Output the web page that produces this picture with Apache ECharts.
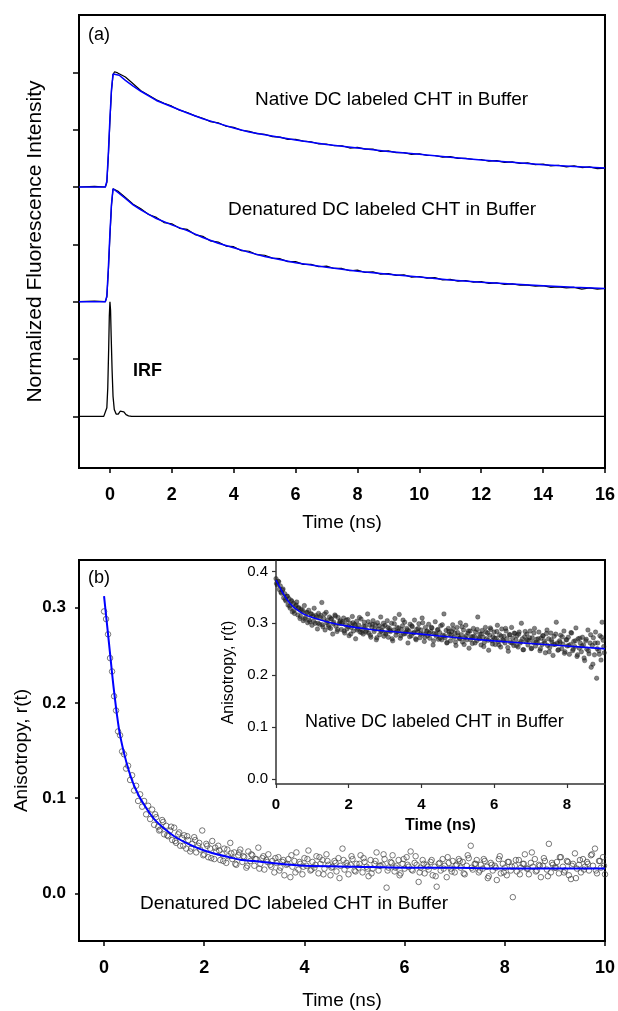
<!DOCTYPE html>
<html>
<head>
<meta charset="utf-8">
<script src="https://cdn.jsdelivr.net/npm/echarts@6/dist/echarts.min.js"></script>
<style>
html,body{margin:0;padding:0;background:#fff;}
#chart{width:618px;height:1011px;}
</style>
</head>
<body>
<div id="chart"></div>
<script>
// ---------- Panel (a): fluorescence decays (offset, normalized units) ----------
const decayT = [-1, -0.5, -0.15, -0.1, -0.05, 0, 0.05, 0.1, 0.15,
  0.25, 0.5, 0.75, 1, 1.25, 1.5, 1.75, 2, 2.25, 2.5, 2.75, 3, 3.25, 3.5, 3.75, 4,
  4.25, 4.5, 4.75, 5, 5.25, 5.5, 5.75, 6, 6.25, 6.5, 6.75, 7, 7.25, 7.5, 7.75, 8,
  8.25, 8.5, 8.75, 9, 9.25, 9.5, 9.75, 10, 10.25, 10.5, 10.75, 11, 11.25, 11.5, 11.75, 12,
  12.25, 12.5, 12.75, 13, 13.25, 13.5, 13.75, 14, 14.25, 14.5, 14.75, 15, 15.25, 15.5, 15.75, 16];
const nativeDecay = [4.00, 4.01, 4.00, 4.08, 4.55, 5.15, 5.68, 5.96, 6.01,
  5.99, 5.92, 5.80, 5.68, 5.60, 5.52, 5.46, 5.41, 5.34, 5.30, 5.24, 5.20, 5.14, 5.12, 5.06, 5.04,
  4.99, 4.97, 4.93, 4.92, 4.88, 4.87, 4.83, 4.83, 4.80, 4.79, 4.75, 4.75, 4.72, 4.72, 4.68, 4.69,
  4.66, 4.66, 4.62, 4.63, 4.60, 4.60, 4.57, 4.58, 4.55, 4.55, 4.52, 4.53, 4.50, 4.50, 4.48, 4.48,
  4.45, 4.46, 4.43, 4.44, 4.41, 4.42, 4.39, 4.40, 4.37, 4.38, 4.35, 4.37, 4.34, 4.35, 4.32, 4.33];
const denatDecay = [2.00, 2.01, 2.00, 2.08, 2.55, 3.15, 3.68, 3.97, 3.99,
  3.93, 3.82, 3.70, 3.62, 3.52, 3.47, 3.38, 3.36, 3.28, 3.26, 3.17, 3.14, 3.06, 3.04, 2.97, 2.96,
  2.89, 2.88, 2.82, 2.81, 2.76, 2.75, 2.70, 2.70, 2.65, 2.65, 2.61, 2.62, 2.58, 2.58, 2.54, 2.55,
  2.51, 2.52, 2.48, 2.49, 2.46, 2.47, 2.43, 2.44, 2.41, 2.42, 2.38, 2.39, 2.36, 2.37, 2.34, 2.35,
  2.32, 2.33, 2.30, 2.31, 2.29, 2.29, 2.27, 2.28, 2.25, 2.26, 2.24, 2.25, 2.22, 2.24, 2.22, 2.23];
const fitT = [-1, -0.15, -0.1, -0.05, 0, 0.05, 0.1, 0.15, 0.3, 0.5, 0.75, 1, 1.5, 2, 2.5, 3, 3.5,
  4, 4.5, 5, 6, 7, 8, 9, 10, 11, 12, 13, 14, 15, 16];
const nativeFit = [4.0, 4.0, 4.1, 4.6, 5.2, 5.7, 5.97, 6.0, 5.95, 5.86, 5.76, 5.67, 5.51, 5.40, 5.29, 5.19, 5.11,
  5.03, 4.96, 4.91, 4.82, 4.74, 4.68, 4.62, 4.57, 4.52, 4.47, 4.43, 4.39, 4.36, 4.33];
const denatFit = [2.0, 2.0, 2.1, 2.6, 3.2, 3.7, 3.97, 3.98, 3.89, 3.80, 3.69, 3.60, 3.45, 3.34, 3.24, 3.12, 3.02,
  2.94, 2.86, 2.79, 2.68, 2.60, 2.53, 2.48, 2.43, 2.38, 2.34, 2.31, 2.28, 2.25, 2.23];
const irfT = [-1, -0.2, -0.15, -0.1, -0.07, -0.04, -0.02, 0, 0.02, 0.04, 0.07, 0.1, 0.14, 0.2, 0.27, 0.33, 0.39, 0.45, 0.52, 0.6, 0.7, 16];
const irfV = [0, 0, 0.02, 0.15, 0.5, 1.2, 1.75, 2.0, 1.85, 1.4, 0.8, 0.35, 0.12, 0.04, 0.04, 0.09, 0.11, 0.08, 0.03, 0.01, 0, 0];
const topXTicks = [0, 2, 4, 6, 8, 10, 12, 14, 16];
const topYTicks = [0, 1, 2, 3, 4, 5, 6];

// ---------- Panel (b): anisotropy, denatured (main) ----------
const denatAnisoStart = 0, denatAnisoStep = 0.04;
const denatAniso = [
  0.296,0.288,0.272,0.247,0.233,0.207,0.192,0.170,0.166,0.149,
  0.146,0.131,0.134,0.119,0.124,0.108,0.113,0.097,0.104,0.091,
  0.097,0.083,0.092,0.078,0.088,0.072,0.080,0.070,0.067,0.077,
  0.062,0.071,0.060,0.066,0.056,0.069,0.053,0.062,0.050,0.058,
  0.061,0.047,0.056,0.044,0.052,0.059,0.043,0.050,0.046,0.066,
  0.041,0.052,0.038,0.047,0.055,0.036,0.044,0.050,0.035,0.041,
  0.047,0.032,0.039,0.053,0.036,0.043,0.030,0.040,0.046,0.033,
  0.038,0.027,0.044,0.034,0.040,0.029,0.036,0.048,0.031,0.037,
  0.025,0.035,0.041,0.030,0.034,0.022,0.032,0.038,0.027,0.033,
  0.019,0.030,0.036,0.017,0.028,0.034,0.043,0.025,0.031,0.020,
  0.037,0.029,0.045,0.024,0.033,0.027,0.039,0.021,0.031,0.035,
  0.026,0.041,0.030,0.019,0.028,0.034,0.023,0.037,0.029,0.047,
  0.025,0.032,0.020,0.030,0.036,0.024,0.031,0.027,0.040,0.022,
  0.033,0.028,0.018,0.035,0.026,0.031,0.043,0.024,0.029,0.030,
  0.036,0.006,0.027,0.033,0.040,0.023,0.029,0.035,0.021,0.031,
  0.026,0.038,0.028,0.044,0.024,0.032,0.030,0.012,0.027,0.035,
  0.021,0.030,0.025,0.033,0.019,0.028,0.007,0.031,0.024,0.036,
  0.029,0.017,0.032,0.026,0.034,0.022,0.030,0.036,0.027,0.033,
  0.020,0.029,0.037,0.050,0.025,0.031,0.035,0.022,0.030,0.026,
  0.034,0.028,0.018,0.032,0.024,0.029,0.014,0.036,0.021,0.031,
  0.027,0.019,0.033,0.024,-0.004,0.029,0.023,0.035,0.027,0.031,
  0.041,0.026,0.020,0.032,0.028,0.036,0.024,0.030,0.017,0.029,
  0.034,0.025,0.052,0.022,0.030,0.027,0.033,0.021,0.038,0.028,
  0.024,0.034,0.019,0.015,0.031,0.042,0.026,0.030,0.022,0.036,
  0.028,0.033,0.024,0.040,0.029,0.047,0.021,0.034,0.027,0.038,
  0.020];
// interleaved channels of the same decay (t = 1.02, 1.10, ...)
const denatAniso2Start = 1.02, denatAniso2Step = 0.08;
const denatAniso2 = [
  .083,.066,.075,.061,.070,.055,.064,.050,.060,.047,
  .056,.053,.040,.050,.037,.048,.045,.034,.046,.042,
  .031,.043,.039,.029,.041,.036,.026,.039,.033,.028,
  .037,.024,.035,.031,.040,.022,.033,.028,.036,.025,
  .030,.038,.020,.034,.027,.032,.016,.035,.029,.039,
  .023,.031,.037,.026,.021,.034,.029,.041,.024,.032,
  .027,.019,.036,.030,.025,.039,.022,.031,.028,.035,
  .018,.032,.026,.038,.023,.029,.034,.021,.040,.027,
  .031,.024,.036,.016,.030,.027,.039,.022,.033,.028,
  .035,.020,.031,.026,.043,.023,.029,.037,.018,.032,
  .027,.038,.022,.033,.029,.016,.035,.025,.031,.041,
  .024,.034,.029];
const denatAnisoFitT = [0, 0.1, 0.2, 0.3, 0.4, 0.5, 0.6, 0.7, 0.8, 0.9, 1.0, 1.2, 1.4, 1.6, 1.8, 2.0, 2.25, 2.5, 2.75, 3.0, 3.5, 4, 5, 6, 7, 8, 9, 10];
const denatAnisoFit = [0.312, 0.262, 0.212, 0.172, 0.147, 0.128, 0.113, 0.102, 0.093, 0.085, 0.078, 0.068, 0.060, 0.054, 0.049, 0.045, 0.041, 0.038, 0.035, 0.034, 0.031, 0.029, 0.028, 0.027, 0.027, 0.026, 0.026, 0.026];
const mainXTicks = [0, 2, 4, 6, 8, 10];
const mainYTicks = [0, 0.1, 0.2, 0.3];

// ---------- Inset: anisotropy, native ----------
const nativeAnisoStart = 0, nativeAnisoStep = 0.03;
const nativeAniso = [
  .386,.374,.381,.365,.372,.358,.364,.349,.357,.343,
  .352,.335,.347,.329,.344,.322,.338,.319,.333,.341,
  .316,.330,.309,.327,.322,.305,.334,.311,.320,.301,
  .325,.303,.318,.296,.314,.329,.300,.312,.289,.319,
  .298,.315,.340,.293,.309,.287,.321,.305,.296,.312,
  .290,.308,.279,.302,.316,.294,.284,.311,.299,.305,
  .288,.303,.310,.281,.297,.289,.307,.276,.300,.292,
  .313,.285,.298,.270,.304,.290,.296,.283,.308,.287,
  .279,.302,.294,.286,.318,.281,.297,.273,.292,.305,
  .284,.297,.268,.301,.289,.278,.312,.286,.293,.275,
  .296,.281,.305,.273,.290,.284,.300,.266,.287,.309,
  .277,.292,.284,.317,.271,.288,.295,.279,.302,.283,
  .290,.262,.285,.298,.276,.293,.281,.306,.270,.288,
  .283,.299,.272,.287,.310,.279,.265,.292,.284,.276,
  .298,.271,.284,.291,.258,.280,.303,.275,.287,.269,
  .282,.295,.268,.277,.318,.272,.286,.263,.290,.279,
  .266,.284,.297,.273,.281,.257,.292,.276,.270,.301,
  .278,.264,.287,.272,.296,.268,.281,.252,.285,.274,
  .261,.290,.275,.283,.266,.312,.272,.279,.258,.286,
  .273,.263,.292,.270,.281,.248,.277,.288,.266,.274,
  .283,.259,.271,.296,.265,.278,.254,.289,.268,.275,
  .262,.285,.270,.246,.278,.263,.292,.271,.257,.280,
  .268,.276,.254,.283,.262,.300,.270,.249,.274,.265,
  .279,.258,.267,.285,.251,.272,.263,.290,.256,.269,
  .262,.283,.247,.271,.259,.276,.266,.243,.280,.257,
  .270,.253,.281,.264,.238,.275,.259,.302,.262,.249,
  .266,.277,.251,.260,.285,.245,.268,.256,.273,.240,
  .259,.281,.247,.265,.255,.291,.236,.270,.252,.262,
  .245,.273,.258,.228,.266,.250,.287,.241,.262,.215,
  .257,.272,.239,.283,.194,.262,.247,.276,.229,.302,
  .267,.243];
// interleaved channels of the same decay (t = 0.015, 0.075, ...)
const nativeAniso2Start = 0.015, nativeAniso2Step = 0.06;
const nativeAniso2 = [
  .377,.380,.360,.366,.346,.352,.333,.342,.324,.335,
  .329,.313,.325,.308,.321,.306,.318,.304,.315,.300,
  .311,.297,.318,.301,.292,.309,.299,.314,.288,.303,
  .300,.285,.306,.293,.279,.301,.296,.287,.311,.282,
  .294,.283,.303,.277,.298,.289,.272,.295,.284,.300,
  .279,.292,.286,.270,.299,.283,.291,.276,.306,.280,
  .287,.274,.295,.282,.268,.290,.279,.301,.273,.285,
  .281,.292,.266,.279,.288,.271,.297,.276,.262,.284,
  .277,.289,.264,.282,.271,.293,.259,.276,.285,.268,
  .274,.262,.288,.270,.279,.255,.283,.267,.291,.260,
  .271,.284,.258,.275,.266,.290,.253,.278,.262,.281,
  .257,.279,.265,.249,.284,.268,.272,.252,.281,.263,
  .270,.251,.276,.262,.287,.245,.268,.259,.279,.248,
  .263,.274,.242,.268,.257,.282,.250,.266,.239,.271,
  .256,.233,.269,.247,.278,.221,.262,.251,.240,.273,
  .255];
const nativeAnisoFitT = [0, 0.1, 0.2, 0.3, 0.4, 0.5, 0.75, 1.0, 1.5, 2.0, 2.5, 3.0, 4, 5, 6, 7, 8, 9, 9.05];
const nativeAnisoFit = [0.383, 0.370, 0.357, 0.346, 0.337, 0.330, 0.318, 0.311, 0.301, 0.294, 0.289, 0.285, 0.279, 0.272, 0.266, 0.261, 0.256, 0.251, 0.2505];
const insetXTicks = [0, 2, 4, 6, 8];
const insetYTicks = [0, 0.1, 0.2, 0.3, 0.4];

// ---------- helpers ----------
const zip = (xs, ys) => xs.map((x, i) => [x, ys[i]]);
const sampled = (t0, dt, ys) => ys.map((y, i) => [+(t0 + i * dt).toFixed(4), y]);

const FONT = '"Liberation Sans", Arial, sans-serif';
const BLUE = '#0000ff';

function axisBase(extra) {
  return Object.assign({
    type: 'value',
    splitLine: { show: false },
    axisLine: { show: true, onZero: false, lineStyle: { color: '#000', width: 2 } },
  }, extra);
}

const openCircle = { color: 'rgba(255,255,255,0)', borderColor: '#444', borderWidth: 0.9 };
const darkDot = { color: 'rgba(35,35,35,0.72)', borderColor: 'rgba(20,20,20,0.8)', borderWidth: 0.5 };

const chart = echarts.init(document.getElementById('chart'), null, { renderer: 'canvas' });
chart.setOption({
  animation: false,
  backgroundColor: '#fff',
  textStyle: { fontFamily: FONT, color: '#000' },
  grid: [
    { left: 79, top: 15, width: 527, height: 453, show: true, borderColor: '#000', borderWidth: 2, backgroundColor: 'transparent' },
    { left: 79, top: 560, width: 527, height: 381, show: true, borderColor: '#000', borderWidth: 2, backgroundColor: 'transparent' },
    { left: 276, top: 561, width: 329, height: 223, show: false }
  ],
  xAxis: [
    axisBase({
      gridIndex: 0, min: -1, max: 16,
      axisTick: { show: true, customValues: topXTicks, length: 5, lineStyle: { color: '#000', width: 1.5 } },
      axisLabel: { customValues: topXTicks, fontSize: 18, fontWeight: 'bold', color: '#000', margin: 18 },
      name: 'Time (ns)', nameLocation: 'middle', nameGap: 45,
      nameTextStyle: { fontSize: 19, color: '#000' }
    }),
    axisBase({
      gridIndex: 1, min: -0.5, max: 10,
      axisTick: { show: true, customValues: mainXTicks, length: 5, lineStyle: { color: '#000', width: 1.5 } },
      axisLabel: { customValues: mainXTicks, fontSize: 18, fontWeight: 'bold', color: '#000', margin: 18 },
      name: 'Time (ns)', nameLocation: 'middle', nameGap: 50,
      nameTextStyle: { fontSize: 19, color: '#000' }
    }),
    axisBase({
      gridIndex: 2, min: 0, max: 9.05,
      axisLine: { show: true, onZero: false, lineStyle: { color: '#333', width: 1.5 } },
      axisTick: { show: true, customValues: insetXTicks, length: 4, lineStyle: { color: '#333', width: 1.2 } },
      axisLabel: { customValues: insetXTicks, fontSize: 15, fontWeight: 'bold', color: '#000', margin: 13 },
      name: 'Time (ns)', nameLocation: 'middle', nameGap: 34,
      nameTextStyle: { fontSize: 16, fontWeight: 'bold', color: '#000' }
    })
  ],
  yAxis: [
    axisBase({
      gridIndex: 0, min: -0.9, max: 7,
      axisTick: { show: true, customValues: topYTicks, length: 6, lineStyle: { color: '#000', width: 1.5 } },
      axisLabel: { show: false },
      name: 'Normalized Fluorescence Intensity', nameLocation: 'middle', nameGap: 33,
      nameTextStyle: { fontSize: 21, color: '#000' }
    }),
    axisBase({
      gridIndex: 1, min: -0.05, max: 0.35,
      axisTick: { show: true, customValues: mainYTicks, length: 4, lineStyle: { color: '#000', width: 1.5 } },
      axisLabel: { customValues: mainYTicks, fontSize: 17, fontWeight: 'bold', color: '#000', margin: 13,
        formatter: v => (+v).toFixed(1) },
      name: 'Anisotropy, r(t)', nameLocation: 'middle', nameGap: 48,
      nameTextStyle: { fontSize: 19, color: '#000' }
    }),
    axisBase({
      gridIndex: 2, min: -0.01, max: 0.42,
      axisLine: { show: true, onZero: false, lineStyle: { color: '#333', width: 1.5 } },
      axisTick: { show: true, customValues: insetYTicks, length: 4, lineStyle: { color: '#333', width: 1.2 } },
      axisLabel: { customValues: insetYTicks, fontSize: 15, color: '#000', margin: 8,
        formatter: v => (+v).toFixed(1) },
      name: 'Anisotropy, r(t)', nameLocation: 'middle', nameGap: 34,
      nameTextStyle: { fontSize: 16, color: '#000' }
    })
  ],
  series: [
    { type: 'line', xAxisIndex: 0, yAxisIndex: 0, data: zip(decayT, nativeDecay), showSymbol: false,
      lineStyle: { color: '#000', width: 1.2 }, z: 2 },
    { type: 'line', xAxisIndex: 0, yAxisIndex: 0, data: zip(fitT, nativeFit), showSymbol: false,
      lineStyle: { color: BLUE, width: 1.5 }, z: 3 },
    { type: 'line', xAxisIndex: 0, yAxisIndex: 0, data: zip(decayT, denatDecay), showSymbol: false,
      lineStyle: { color: '#000', width: 1.2 }, z: 2 },
    { type: 'line', xAxisIndex: 0, yAxisIndex: 0, data: zip(fitT, denatFit), showSymbol: false,
      lineStyle: { color: BLUE, width: 1.5 }, z: 3 },
    { type: 'line', xAxisIndex: 0, yAxisIndex: 0, data: zip(irfT, irfV), showSymbol: false,
      lineStyle: { color: '#000', width: 1.3 }, z: 2 },
    { type: 'scatter', xAxisIndex: 1, yAxisIndex: 1, data: sampled(denatAnisoStart, denatAnisoStep, denatAniso),
      symbol: 'circle', symbolSize: 5.5, itemStyle: openCircle, z: 2 },
    { type: 'scatter', xAxisIndex: 1, yAxisIndex: 1, data: sampled(denatAniso2Start, denatAniso2Step, denatAniso2),
      symbol: 'circle', symbolSize: 5.5, itemStyle: openCircle, z: 2 },
    { type: 'line', xAxisIndex: 1, yAxisIndex: 1, data: zip(denatAnisoFitT, denatAnisoFit), showSymbol: false,
      smooth: 0.3, lineStyle: { color: BLUE, width: 2 }, z: 3 },
    { type: 'scatter', xAxisIndex: 2, yAxisIndex: 2, data: sampled(nativeAnisoStart, nativeAnisoStep, nativeAniso),
      symbol: 'circle', symbolSize: 4.5, itemStyle: darkDot, z: 2 },
    { type: 'scatter', xAxisIndex: 2, yAxisIndex: 2, data: sampled(nativeAniso2Start, nativeAniso2Step, nativeAniso2),
      symbol: 'circle', symbolSize: 4.5, itemStyle: darkDot, z: 2 },
    { type: 'line', xAxisIndex: 2, yAxisIndex: 2, data: zip(nativeAnisoFitT, nativeAnisoFit), showSymbol: false,
      smooth: 0.3, lineStyle: { color: BLUE, width: 1.6 }, z: 3 }
  ],
  graphic: [
    { type: 'text', x: 88, y: 35, style: { text: '(a)', font: '18px ' + FONT, fill: '#000', verticalAlign: 'middle' } },
    { type: 'text', x: 255, y: 100, style: { text: 'Native DC labeled CHT in Buffer', font: '19px ' + FONT, fill: '#000', verticalAlign: 'middle' } },
    { type: 'text', x: 228, y: 210, style: { text: 'Denatured DC labeled CHT in Buffer', font: '19px ' + FONT, fill: '#000', verticalAlign: 'middle' } },
    { type: 'text', x: 133, y: 371, style: { text: 'IRF', font: 'bold 18px ' + FONT, fill: '#000', verticalAlign: 'middle' } },
    { type: 'text', x: 88, y: 578, style: { text: '(b)', font: '18px ' + FONT, fill: '#000', verticalAlign: 'middle' } },
    { type: 'text', x: 305, y: 722, style: { text: 'Native DC labeled CHT in Buffer', font: '18px ' + FONT, fill: '#000', verticalAlign: 'middle' } },
    { type: 'text', x: 140, y: 904, style: { text: 'Denatured DC labeled CHT in Buffer', font: '19px ' + FONT, fill: '#000', verticalAlign: 'middle' } }
  ]
});
</script>
</body>
</html>
